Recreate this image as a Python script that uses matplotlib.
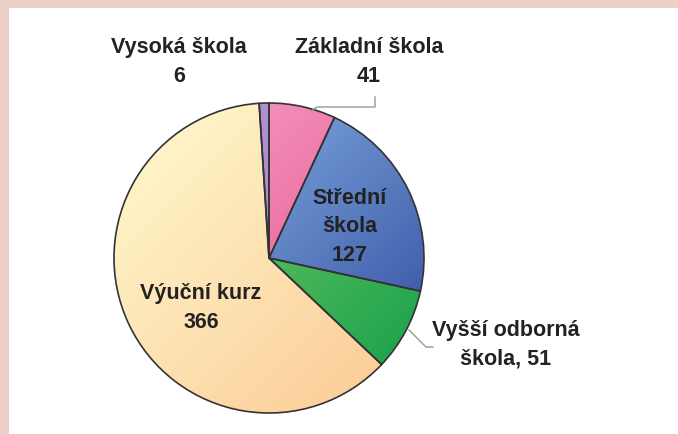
import numpy as np
import matplotlib
matplotlib.use("Agg")
import matplotlib.pyplot as plt
from matplotlib.colors import LinearSegmentedColormap

# data (clockwise from 12 o'clock)
labels = ["Základní škola", "Střední škola", "Vyšší odborná škola", "Výuční kurz", "Vysoká škola"]
values = [41, 127, 51, 366, 6]
# gradient colours per slice: (light, dark)
grad_colors = [("#f7a8cc", "#e5417e"),
               ("#94c0ee", "#2c489c"),
               ("#8ed36a", "#0f9d4a"),
               ("#fffbd0", "#fbc892"),
               ("#b79ad6", "#9a78c2")]

W, H = 678, 434
fig = plt.figure(figsize=(W / 100, H / 100), dpi=100)
fig.patch.set_facecolor("#ebd1c7")
ax = fig.add_axes([0, 0, 1, 1])
ax.axis("off")

# white panel
ax.add_patch(plt.Rectangle((9, 0), W - 9, H - 8, facecolor="white", edgecolor="none", zorder=0))

cx, cy, r = 269, H - 258, 155
wedges, _ = ax.pie(values, center=(cx, cy), radius=r, startangle=90, counterclock=False,
                   wedgeprops=dict(edgecolor="#333333", linewidth=1.2, facecolor="none"))

# gradient fill clipped to each wedge (top-left light -> bottom-right dark)
xx, yy = np.meshgrid(np.linspace(0, 1, 200), np.linspace(0, 1, 200))
g = (xx + yy) / 2
for w, (c1, c2) in zip(wedges, grad_colors):
    cmap = LinearSegmentedColormap.from_list("g", [c1, c2])
    im = ax.imshow(g, cmap=cmap, extent=(cx - r, cx + r, cy - r, cy + r),
                   origin="upper", zorder=1, interpolation="bilinear")
    im.set_clip_path(w)
    w.set_zorder(2)
ax.set_xlim(0, W)
ax.set_ylim(0, H)
ax.set_aspect("equal")

font = dict(family=["Liberation Sans", "DejaVu Sans"], fontsize=15.5, fontweight="bold",
            color="#222222", ha="center", va="center", linespacing=1.45)

ax.text(179, H - 62, "Vysoká škola\n6", **font)
ax.text(369, H - 62, "Základní škola\n41", **font)
ax.text(350, H - 227, "Střední\nškola\n127", **font)
ax.text(201, H - 308, "Výuční kurz\n366", **font)
ax.text(506, H - 345, "Vyšší odborná\nškola, 51", **font)

# leader lines
ax.plot([375, 375, 317, 311], [H - 97, H - 107, H - 107, H - 111], color="#999999", lw=1, zorder=3)
ax.plot([409, 426, 433], [H - 330, H - 347, H - 347], color="#999999", lw=1, zorder=3)

fig.savefig("out.png", dpi=100, facecolor=fig.get_facecolor())
